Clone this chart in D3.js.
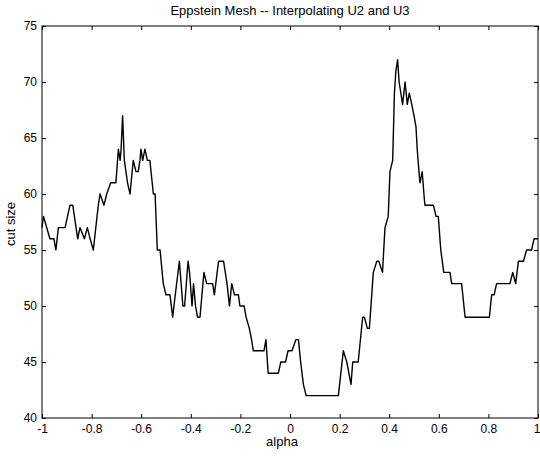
<!DOCTYPE html>
<html>
<head>
<meta charset="utf-8">
<script src="https://cdn.jsdelivr.net/npm/d3@7"></script>
<style>
    body { margin: 0; background: #fff; }
    text { font-family: "Liberation Sans", Arial, sans-serif; fill: #000; }
</style>
</head>
<body>
<div id="chart"></div>
<script>
// vertices of the cut size curve
const alphaValues = [
    -1.000, -0.994, -0.968, -0.952, -0.944, -0.934, -0.907, -0.887, -0.876, -0.856,
    -0.847, -0.829, -0.817, -0.806, -0.793, -0.773, -0.766, -0.750, -0.739, -0.723,
    -0.702, -0.692, -0.685, -0.681, -0.675, -0.668, -0.655, -0.645, -0.632, -0.621,
    -0.612, -0.605, -0.601, -0.594, -0.585, -0.575, -0.565, -0.551, -0.544, -0.535,
    -0.524, -0.511, -0.500, -0.484, -0.473, -0.468, -0.446, -0.432, -0.425, -0.411,
    -0.405, -0.395, -0.389, -0.381, -0.373, -0.363, -0.347, -0.336, -0.312, -0.305,
    -0.288, -0.268, -0.254, -0.244, -0.235, -0.224, -0.208, -0.202, -0.185, -0.177,
    -0.164, -0.155, -0.148, -0.105, -0.097, -0.088, -0.047, -0.037, -0.018, -0.008,
    0.008, 0.024, 0.034, 0.043, 0.054, 0.065, 0.195, 0.215, 0.229, 0.246,
    0.253, 0.275, 0.293, 0.300, 0.312, 0.320, 0.336, 0.350, 0.358, 0.373,
    0.383, 0.396, 0.403, 0.414, 0.421, 0.427, 0.434, 0.440, 0.454, 0.464,
    0.473, 0.481, 0.491, 0.500, 0.508, 0.513, 0.520, 0.524, 0.533, 0.540,
    0.544, 0.578, 0.589, 0.598, 0.608, 0.620, 0.645, 0.652, 0.692, 0.706,
    0.804, 0.813, 0.823, 0.833, 0.887, 0.898, 0.910, 0.921, 0.941, 0.954,
    0.974, 0.984, 1.000
];
const cutSizes = [
    57, 58, 56, 56, 55, 57, 57, 59, 59, 56,
    57, 56, 57, 56, 55, 59, 60, 59, 60, 61,
    61, 64, 63, 64, 67, 63, 61, 60, 63, 62,
    62, 63, 64, 63, 64, 63, 63, 60, 60, 55,
    55, 52, 51, 51, 49, 50, 54, 50, 50, 54,
    53, 50, 52, 50, 49, 49, 53, 52, 52, 51,
    54, 54, 52, 50, 52, 51, 51, 50, 50, 49,
    48, 47, 46, 46, 47, 44, 44, 45, 45, 46,
    46, 47, 47, 45, 43, 42, 42, 46, 45, 43,
    45, 45, 49, 49, 48, 48, 53, 54, 54, 53,
    57, 58, 62, 63, 69, 71, 72, 70, 68, 70,
    68, 69, 68, 67, 66, 64, 62, 61, 62, 60,
    59, 59, 58, 58, 55, 53, 53, 52, 52, 49,
    49, 51, 51, 52, 52, 53, 52, 54, 54, 55,
    55, 56, 56
];
const xTicks = [-1, -0.8, -0.6, -0.4, -0.2, 0, 0.2, 0.4, 0.6, 0.8, 1];
const yTicks = [40, 45, 50, 55, 60, 65, 70, 75];

const margin = { top: 26, right: 2, bottom: 40, left: 42 };
const totalW = 540, totalH = 458;
const width = totalW - margin.left - margin.right;
const height = totalH - margin.top - margin.bottom;

const svg = d3.select("#chart")
    .append("svg")
    .attr("width", totalW)
    .attr("height", totalH);

const g = svg.append("g")
    .attr("transform", `translate(${margin.left},${margin.top})`);

const x = d3.scaleLinear().domain([-1, 1]).range([0, width]);
const y = d3.scaleLinear().domain([40, 75]).range([height, 0]);

// axes with inward ticks (matlab style, box on)
const tickLen = 4;
g.append("g")
    .attr("class", "x-axis")
    .attr("transform", `translate(0,${height})`)
    .call(d3.axisBottom(x).tickValues(xTicks).tickSize(-tickLen).tickPadding(6).tickFormat(d => String(d)))
    .call(a => a.select(".domain").remove());
g.append("g")
    .call(d3.axisTop(x).tickValues(xTicks).tickSize(-tickLen).tickFormat(""))
    .call(a => a.select(".domain").remove());
g.append("g")
    .call(d3.axisLeft(y).tickValues(yTicks).tickSize(-tickLen).tickPadding(5))
    .call(a => a.select(".domain").remove());
g.append("g")
    .attr("transform", `translate(${width},0)`)
    .call(d3.axisRight(y).tickValues(yTicks).tickSize(-tickLen).tickFormat(""))
    .call(a => a.select(".domain").remove());

g.selectAll(".tick text")
    .style("font-size", "12px");
g.selectAll(".tick line")
    .attr("stroke", "#000");

// last x label sits at the right edge, keep it inside the page
g.selectAll(".x-axis .tick text")
    .filter(d => d === 1)
    .attr("text-anchor", "end")
    .attr("dx", 2);

g.append("rect")
    .attr("width", width)
    .attr("height", height)
    .attr("fill", "none")
    .attr("stroke", "#000")
    .attr("stroke-width", 1);

const points = alphaValues.map((a, i) => [a, cutSizes[i]]);
g.append("path")
    .datum(points)
    .attr("fill", "none")
    .attr("stroke", "#000")
    .attr("stroke-width", 1.4)
    .attr("stroke-linejoin", "round")
    .attr("d", d3.line().x(d => x(d[0])).y(d => y(d[1])));

svg.append("text")
    .attr("x", margin.left + width / 2)
    .attr("y", 15)
    .attr("text-anchor", "middle")
    .style("font-size", "13px")
    .text("Eppstein Mesh -- Interpolating U2 and U3");

svg.append("text")
    .attr("x", margin.left + width / 2 - 8)
    .attr("y", 446)
    .attr("text-anchor", "middle")
    .style("font-size", "13px")
    .text("alpha");

svg.append("text")
    .attr("transform", `translate(15,${margin.top + height / 2 + 2}) rotate(-90)`)
    .attr("text-anchor", "middle")
    .style("font-size", "13px")
    .text("cut size");
</script>
</body>
</html>
